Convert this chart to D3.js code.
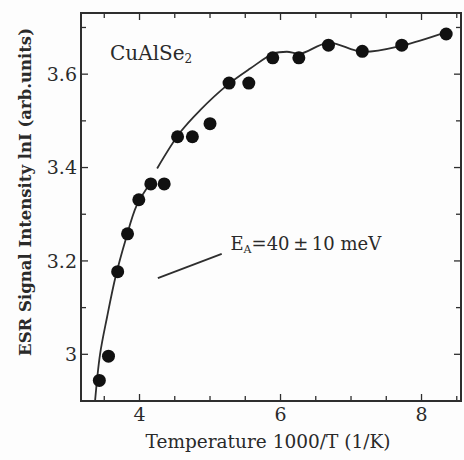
<!DOCTYPE html>
<html>
<head>
<meta charset="utf-8">
<script src="https://cdn.jsdelivr.net/npm/d3@7"></script>
<style>
  body { margin: 0; background: #fdfdfd; }
  svg { display: block; }
  .lbl { font-family: "DejaVu Serif", "Liberation Serif", serif; fill: #2a2a2a; }
</style>
</head>
<body>
<div id="chart"></div>
<script>
// measured points: 1000/T and ln I
var tempX = [3.43, 3.56, 3.69, 3.83, 3.99, 4.16, 4.35, 4.54, 4.75, 5.0, 5.27, 5.55, 5.89, 6.26, 6.68, 7.16, 7.72, 8.35];
var lnI   = [2.944, 2.996, 3.177, 3.258, 3.331, 3.365, 3.365, 3.466, 3.466, 3.494, 3.581, 3.581, 3.635, 3.635, 3.662, 3.649, 3.662, 3.686];

// fitted curve, drawn in two pieces
var fitLowX  = [3.37, 3.44, 3.54, 3.66, 3.80, 3.96, 4.15];
var fitLowY  = [2.901, 3.0, 3.08, 3.166, 3.244, 3.319, 3.366];
var fitHighX = [4.25, 4.58, 4.86, 5.24, 5.57, 5.90, 6.09, 6.28, 6.68, 7.16, 7.72, 8.35];
var fitHighY = [3.398, 3.476, 3.523, 3.576, 3.612, 3.644, 3.648, 3.644, 3.667, 3.648, 3.661, 3.69];

var xTicks = [4, 6, 8];
var yTicks = [3.0, 3.2, 3.4, 3.6];
var yTickLabels = ["3", "3.2", "3.4", "3.6"];

var W = 464, H = 460;
var margin = { top: 13, right: 3, bottom: 59, left: 81 };
var width = W - margin.left - margin.right,
    height = H - margin.top - margin.bottom;

var svg = d3.select("#chart").append("svg")
    .attr("width", W)
    .attr("height", H);

var g = svg.append("g")
    .attr("transform", "translate(" + margin.left + "," + margin.top + ")");

var x = d3.scaleLinear().domain([3.17, 8.56]).range([0, width]);
var y = d3.scaleLinear().domain([2.9, 3.731]).range([height, 0]);

var ink = "#2e2e2e";

// minor + major ticks, all pointing inward
var xMinor = d3.range(3.5, 8.51, 0.5);
var yMinor = d3.range(2.9, 3.71, 0.1);

function isMajorX(v) { return xTicks.some(function(t) { return Math.abs(t - v) < 1e-6; }); }
function isMajorY(v) { return yTicks.some(function(t) { return Math.abs(t - v) < 1e-6; }); }

xMinor.forEach(function(v) {
    var len = isMajorX(v) ? 7 : 5;
    g.append("line").attr("x1", x(v)).attr("x2", x(v)).attr("y1", height).attr("y2", height - len)
        .attr("stroke", ink).attr("stroke-width", 1.3);
    g.append("line").attr("x1", x(v)).attr("x2", x(v)).attr("y1", 0).attr("y2", len)
        .attr("stroke", ink).attr("stroke-width", 1.3);
});
yMinor.forEach(function(v) {
    if (v < 2.95) return;
    var len = isMajorY(v) ? 7 : 5;
    g.append("line").attr("x1", 0).attr("x2", len).attr("y1", y(v)).attr("y2", y(v))
        .attr("stroke", ink).attr("stroke-width", 1.3);
    g.append("line").attr("x1", width).attr("x2", width - len).attr("y1", y(v)).attr("y2", y(v))
        .attr("stroke", ink).attr("stroke-width", 1.3);
});

// frame
g.append("rect")
    .attr("x", 0).attr("y", 0)
    .attr("width", width).attr("height", height)
    .attr("fill", "none")
    .attr("stroke", ink)
    .attr("stroke-width", 2);

// tick labels
g.selectAll(".xt").data(xTicks).enter().append("text")
    .attr("class", "lbl xt")
    .attr("x", function(d) { return x(d); })
    .attr("y", height + 20)
    .attr("text-anchor", "middle")
    .style("font-size", "19px")
    .text(function(d) { return d; });

g.selectAll(".yt").data(yTicks).enter().append("text")
    .attr("class", "lbl yt")
    .attr("x", -4)
    .attr("y", function(d) { return y(d); })
    .attr("dy", "0.36em")
    .attr("text-anchor", "end")
    .style("font-size", "19px")
    .text(function(d, i) { return yTickLabels[i]; });

// axis titles
svg.append("text")
    .attr("class", "lbl")
    .attr("x", 268)
    .attr("y", 448)
    .attr("text-anchor", "middle")
    .style("font-size", "18.5px")
    .text("Temperature 1000/T (1/K)");

svg.append("text")
    .attr("class", "lbl")
    .attr("transform", "translate(31,192) rotate(-90)")
    .attr("text-anchor", "middle")
    .style("font-size", "16.5px")
    .style("font-weight", "bold")
    .text("ESR Signal Intensity lnI (arb.units)");

// fit curve
var line = d3.line()
    .x(function(d) { return x(d[0]); })
    .y(function(d) { return y(d[1]); })
    .curve(d3.curveCatmullRom);

g.append("path")
    .datum(d3.zip(fitLowX, fitLowY))
    .attr("d", line)
    .attr("fill", "none").attr("stroke", ink).attr("stroke-width", 1.8);

g.append("path")
    .datum(d3.zip(fitHighX, fitHighY))
    .attr("d", line)
    .attr("fill", "none").attr("stroke", ink).attr("stroke-width", 1.8);

// data points
g.selectAll(".pt").data(d3.zip(tempX, lnI)).enter().append("circle")
    .attr("class", "pt")
    .attr("cx", function(d) { return x(d[0]); })
    .attr("cy", function(d) { return y(d[1]); })
    .attr("r", 6.5)
    .attr("fill", "#111");

// annotations
var cu = g.append("text")
    .attr("class", "lbl")
    .attr("x", 29)
    .attr("y", 47)
    .style("font-size", "20px");
cu.append("tspan").text("CuAlSe");
cu.append("tspan").attr("dy", 3).style("font-size", "12px").text("2");

g.append("line")
    .attr("x1", x(4.26)).attr("y1", y(3.163))
    .attr("x2", x(5.166)).attr("y2", y(3.215))
    .attr("stroke", ink).attr("stroke-width", 1.8);

var ea = g.append("text")
    .attr("class", "lbl")
    .attr("x", x(5.29))
    .attr("y", y(3.223))
    .style("font-size", "18px");
ea.append("tspan").text("E");
ea.append("tspan").attr("dy", 3).style("font-size", "11px").text("A");
ea.append("tspan").attr("dy", -3).text("=40\u2009\u00b1\u200910 meV");
</script>
</body>
</html>
